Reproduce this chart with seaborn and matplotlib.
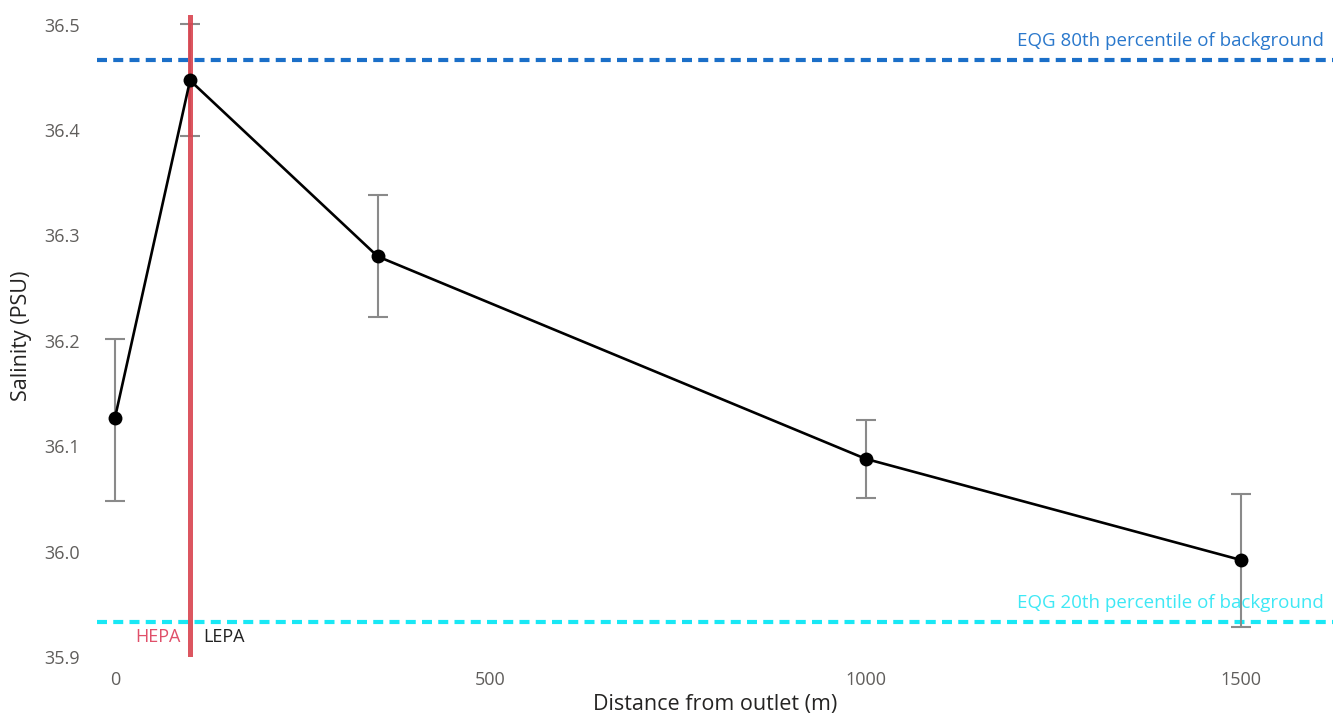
import pandas as pd
import numpy as np
import matplotlib.pyplot as plt
import seaborn as sns

# values
distance = [0, 100, 350, 1000, 1500]
salinity = [36.127, 36.447, 36.280, 36.088, 35.992]
err_low = [36.048, 36.394, 36.223, 36.051, 35.928]
err_high = [36.202, 36.501, 36.338, 36.125, 36.055]

eqg_80 = 36.466
eqg_20 = 35.933
boundary = 100

x_ticks = [0, 500, 1000, 1500]
y_ticks = [35.9, 36.0, 36.1, 36.2, 36.3, 36.4, 36.5]

df = pd.DataFrame({"distance": distance, "salinity": salinity,
                   "low": err_low, "high": err_high})

sns.set_style("white")
plt.rcParams["font.family"] = ["Open Sans", "DejaVu Sans"]

fig = plt.figure(figsize=(13.43, 7.18), dpi=100)
ax = fig.add_axes([0.0722, 0.085, 0.920, 0.894])

# error bars
ax.errorbar(df["distance"], df["salinity"],
            yerr=[df["salinity"] - df["low"], df["high"] - df["salinity"]],
            fmt="none", ecolor="#8a8a8a", elinewidth=1.5, capsize=7,
            capthick=1.5, zorder=2)

# main line
sns.lineplot(data=df, x="distance", y="salinity", color="black",
             linewidth=1.9, marker="o", markersize=10, markeredgewidth=0,
             ax=ax, zorder=4)

# EQG reference lines
ax.axhline(eqg_80, color="#1b6fc8", linewidth=3, linestyle=(0, (2.4, 1.5)), zorder=1)
ax.axhline(eqg_20, color="#19e8f5", linewidth=3, linestyle=(0, (2.4, 1.5)), zorder=1)
ax.text(1610, eqg_80 + 0.01, "EQG 80th percentile of background",
        color="#2a78cc", fontsize=13.5, ha="right", va="bottom")
ax.text(1610, eqg_20 + 0.01, "EQG 20th percentile of background",
        color="#3ee8f5", fontsize=13.5, ha="right", va="bottom")

# HEPA / LEPA boundary
ax.axvline(boundary, color="#d9434f", linewidth=3.6, alpha=0.9, zorder=3)
ax.text(boundary - 13, 35.919, "HEPA", color="#e0506a", fontsize=13,
        ha="right", va="center")
ax.text(boundary + 17, 35.919, "LEPA", color="#222222", fontsize=13,
        ha="left", va="center")

ax.set_xlim(-24, 1622)
ax.set_ylim(35.9, 36.509)
ax.set_xticks(x_ticks)
ax.set_yticks(y_ticks)
ax.set_yticklabels([f"{v:.1f}" for v in y_ticks])
ax.tick_params(axis="both", length=0, labelsize=13, labelcolor="#605e5c")
ax.tick_params(axis="x", pad=10)
ax.tick_params(axis="y", pad=12)

ax.set_xlabel("Distance from outlet (m)", fontsize=15.5, color="#252423", labelpad=4)
ax.set_ylabel("Salinity (PSU)", fontsize=15.5, color="#252423", labelpad=9)

sns.despine(ax=ax, left=True, bottom=True)
ax.grid(False)

plt.savefig("out.png", dpi=100)
